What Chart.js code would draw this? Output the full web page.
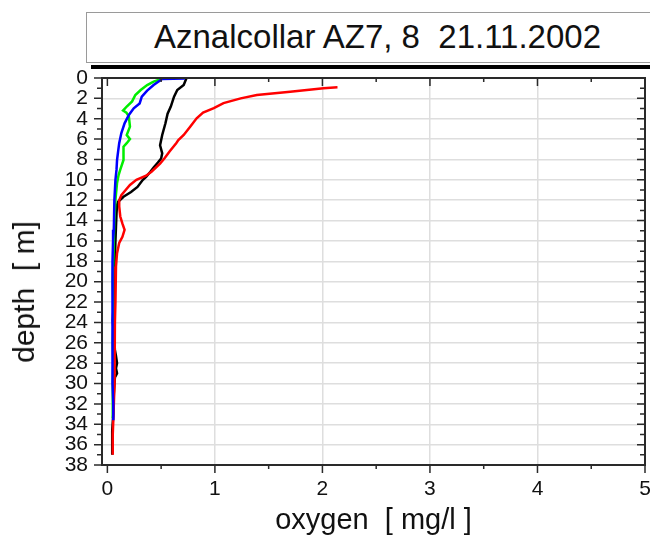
<!DOCTYPE html>
<html>
<head>
<meta charset="utf-8">
<title>Aznalcollar AZ7, 8 - oxygen profile</title>
<script src="https://cdn.jsdelivr.net/npm/chart.js@4.4.1/dist/chart.umd.min.js"></script>
<style>
  html, body { margin: 0; padding: 0; background: #fff; }
  #wrap { position: relative; width: 650px; height: 539px; overflow: hidden;
          font-family: "Liberation Sans", Arial, sans-serif; color: #111; }
  #chart { position: absolute; left: 0; top: 0; }
  #title-box { position: absolute; left: 86px; top: 12px; width: 600px; height: 51px;
               box-sizing: border-box; border: 1px solid #9a9a9a; background: #fff; }
  #title-text { position: absolute; left: 154px; top: 20px; font-size: 33px; line-height: 33px;
                white-space: pre; }
  #title-bar { position: absolute; left: 91px; top: 65px; width: 600px; height: 4px; background: #000; }
  #ylab { position: absolute; left: 24px; top: 292px; font-size: 30px; line-height: 1;
          white-space: pre; transform: translate(-50%, -50%) rotate(-90deg); }
</style>
</head>
<body>
<div id="wrap">
  <canvas id="chart" width="650" height="539"></canvas>
  <div id="title-box"></div>
  <div id="title-text">Aznalcollar AZ7, 8  21.11.2002</div>
  <div id="title-bar"></div>
  <div id="ylab">depth  [ m]</div>
</div>
<script>
/* depth profiles of dissolved oxygen */

const X_TICKS = [0, 1, 2, 3, 4, 5];
const Y_TICKS = [0, 2, 4, 6, 8, 10, 12, 14, 16, 18, 20, 22, 24, 26, 28, 30, 32, 34, 36, 38];

// red profile
const RED_DEPTH = [0.92, 1.0, 1.34, 1.67, 2.0, 2.47, 2.96, 3.4, 3.96, 4.78, 5.6, 6.1, 6.4, 7.2, 7.9, 8.4, 9.2, 9.6,
  10.0, 10.5, 11.0, 11.5, 12.0, 12.6, 13.6, 14.3, 14.9, 15.6, 16.2, 17.2, 18.5, 20, 22, 24, 26, 28, 30, 32, 33.6, 35, 37.0];
const RED_O2 = [2.14, 2.01, 1.70, 1.39, 1.24, 1.08, 0.99, 0.89, 0.83, 0.77, 0.71, 0.66, 0.64, 0.58, 0.53, 0.49, 0.41, 0.36,
  0.27, 0.21, 0.17, 0.13, 0.11, 0.11, 0.12, 0.14, 0.16, 0.14, 0.11, 0.09, 0.08, 0.075, 0.075, 0.07, 0.07, 0.065, 0.065, 0.06, 0.055, 0.05, 0.05];

// black profile
const BLACK_DEPTH = [0.03, 0.69, 1.18, 1.83, 2.8, 3.5, 4.45, 5.6, 6.6, 7.4, 7.9, 8.3, 8.8, 9.2, 9.7, 10.0, 10.7, 11.2,
  11.66, 12.15, 12.5, 13.3, 14.6, 16, 18, 20, 22, 23.8, 24.5, 26.7, 27.3, 28, 28.5, 29.0, 29.4, 31, 33, 34.6, 37.0];
const BLACK_O2 = [0.735, 0.71, 0.65, 0.62, 0.59, 0.56, 0.54, 0.51, 0.49, 0.51, 0.50, 0.47, 0.43, 0.40, 0.36, 0.33, 0.28, 0.22,
  0.15, 0.10, 0.09, 0.085, 0.08, 0.075, 0.07, 0.065, 0.06, 0.05, 0.055, 0.07, 0.08, 0.09, 0.08, 0.09, 0.07, 0.06, 0.055, 0.045, 0.045];

// blue profile
const BLUE_DEPTH = [0.05, 0.1, 0.69, 1.24, 1.83, 2.5, 2.98, 3.63, 4.45, 5.4, 6.4, 7.2, 8.05, 9.0, 10, 12, 14.9, 15.9,
  17.9, 20, 22, 24, 26, 28, 30, 32, 33.6];
const BLUE_O2 = [0.72, 0.51, 0.43, 0.37, 0.32, 0.30, 0.245, 0.20, 0.16, 0.13, 0.11, 0.10, 0.09, 0.085, 0.075, 0.065, 0.06, 0.053,
  0.048, 0.045, 0.045, 0.048, 0.048, 0.05, 0.05, 0.055, 0.055];

// green profile
const GREEN_DEPTH = [0.13, 0.36, 0.69, 1.18, 1.67, 2.3, 2.8, 3.2, 3.4, 3.8, 4.78, 5.6, 6.0, 6.4, 6.75, 7.07, 8.05, 9.0,
  9.5, 10.3, 12, 14, 16, 18, 20, 22, 24, 26, 28, 30, 32, 33.4];
const GREEN_O2 = [0.49, 0.43, 0.37, 0.31, 0.26, 0.23, 0.18, 0.146, 0.177, 0.20, 0.21, 0.18, 0.21, 0.18, 0.15, 0.15, 0.15, 0.12,
  0.105, 0.09, 0.075, 0.065, 0.06, 0.055, 0.05, 0.055, 0.055, 0.05, 0.055, 0.05, 0.05, 0.05];

const FONT = '"Liberation Sans", Arial, sans-serif';

const pts = (xs, ys) => xs.map((v, i) => ({ x: v, y: ys[i] }));
const profile = (data, color) => ({
  data, borderColor: color, backgroundColor: color, borderWidth: 2.5,
  showLine: true, pointRadius: 0, tension: 0, fill: false
});

// frame on all four sides, with major/minor ticks like the original plot
const frameTicks = {
  id: 'frameTicks',
  afterDatasetsDraw(chart) {
    const { ctx, chartArea: a, scales: { x, y } } = chart;
    ctx.save();
    ctx.strokeStyle = '#2a2a2a';
    ctx.lineWidth = 1.5;
    ctx.beginPath();
    for (let i = 0; i <= 10; i++) {
      const px = x.getPixelForValue(i / 2);
      const len = i % 2 === 0 ? 8 : 4;
      ctx.moveTo(px, a.bottom); ctx.lineTo(px, a.bottom + len);
      ctx.moveTo(px, a.top); ctx.lineTo(px, a.top + len);
    }
    for (let v = 0; v <= 38; v++) {
      const py = y.getPixelForValue(v);
      const len = v % 2 === 0 ? 8 : 5;
      ctx.moveTo(a.left, py); ctx.lineTo(a.left - len, py);
      ctx.moveTo(a.right, py); ctx.lineTo(a.right - len, py);
    }
    ctx.stroke();
    ctx.lineWidth = 2;
    ctx.strokeRect(a.left, a.top, a.right - a.left, a.bottom - a.top);
    ctx.restore();
  }
};

new Chart(document.getElementById('chart'), {
  type: 'scatter',
  data: {
    datasets: [
      profile(pts(BLUE_O2, BLUE_DEPTH), '#0000ff'),
      profile(pts(RED_O2, RED_DEPTH), '#ff0000'),
      profile(pts(GREEN_O2, GREEN_DEPTH), '#00ee00'),
      profile(pts(BLACK_O2, BLACK_DEPTH), '#000000')
    ]
  },
  options: {
    responsive: false,
    animation: false,
    layout: { padding: { top: 78, right: 5, left: 0, bottom: 0 } },
    plugins: { legend: { display: false }, tooltip: { enabled: false } },
    scales: {
      x: {
        type: 'linear', min: -0.05, max: 5,
        afterFit: s => { s.height = 74; s.paddingLeft = 0; s.paddingRight = 0; },
        afterBuildTicks: s => { s.ticks = X_TICKS.map(v => ({ value: v })); },
        ticks: { font: { family: FONT, size: 21 }, color: '#111', padding: 12, maxRotation: 0 },
        grid: { color: c => (c.tick && c.tick.value === 0 ? 'rgba(0,0,0,0)' : '#dedede'), lineWidth: 1.5, drawTicks: false },
        border: { display: false },
        title: { display: true, text: 'oxygen  [ mg/l ]', color: '#111',
                 font: { family: FONT, size: 29 }, padding: { top: 0, bottom: 1 } }
      },
      y: {
        type: 'linear', min: 0, max: 38, reverse: true,
        afterFit: s => { s.width = 102; s.paddingTop = 0; s.paddingBottom = 0; },
        afterBuildTicks: s => { s.ticks = Y_TICKS.map(v => ({ value: v })); },
        ticks: { font: { family: FONT, size: 21 }, color: '#111', padding: 14, autoSkip: false },
        grid: { color: '#dedede', lineWidth: 1.5, drawTicks: false },
        border: { display: false }
      }
    }
  },
  plugins: [frameTicks]
});
</script>
</body>
</html>
